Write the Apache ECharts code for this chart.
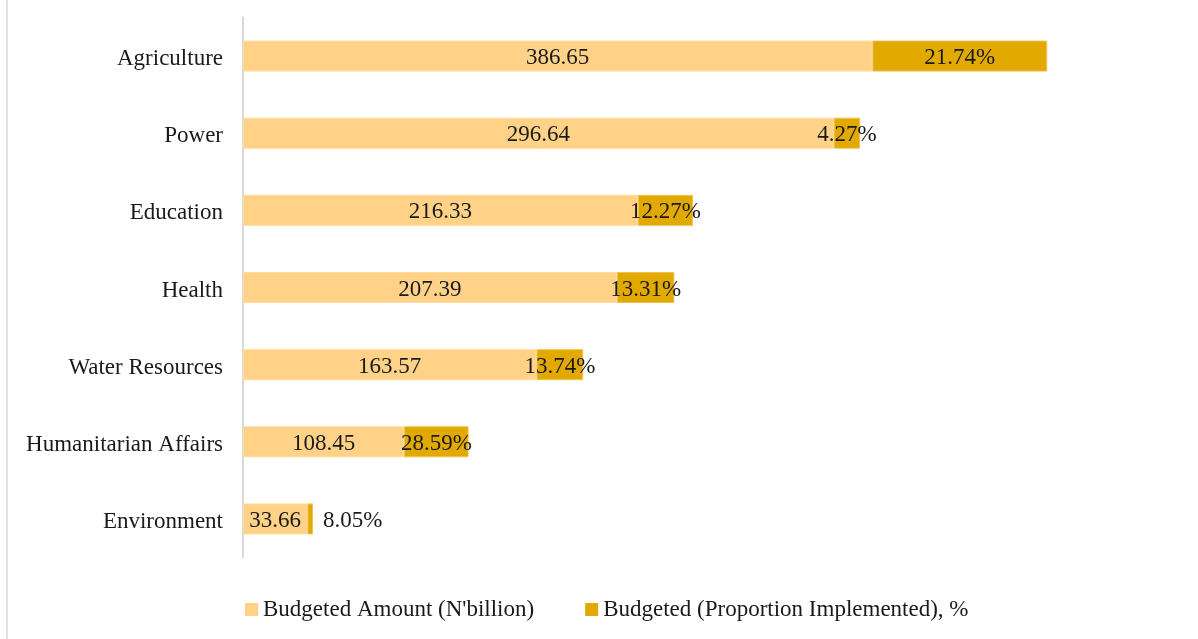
<!DOCTYPE html>
<html>
<head>
<meta charset="utf-8">
<title>Budget by sector</title>
<script src="https://cdn.jsdelivr.net/npm/echarts@6/dist/echarts.min.js"></script>
<style>
    html, body { margin: 0; padding: 0; background: #fff; }
    #chart { width: 1198px; height: 639px; }
</style>
</head>
<body>
<div id="chart"></div>
<script>
    // sectors, top to bottom
    var categories = ['Agriculture', 'Power', 'Education', 'Health', 'Water Resources', 'Humanitarian Affairs', 'Environment'];
    // budgeted amount, N'billion
    var budgeted = [386.65, 296.64, 216.33, 207.39, 163.57, 108.45, 33.66];
    // proportion implemented, %
    var implementedPct = [21.74, 4.27, 12.27, 13.31, 13.74, 28.59, 8.05];

    var FONT = '"Liberation Serif", "DejaVu Serif", serif';
    var FS = 23;

    // the bar is split: unimplemented part + implemented part = budgeted amount
    var restData = [];
    var implData = [];
    for (var i = 0; i < categories.length; i++) {
        var impl = budgeted[i] * implementedPct[i] / 100;
        restData.push({ value: budgeted[i] - impl, label: { formatter: budgeted[i].toFixed(2) } });
        var item = { value: impl, label: { formatter: implementedPct[i].toFixed(2) + '%' } };
        if (impl < 5) {
            // too thin to hold its label
            item.label.position = 'right';
            item.label.distance = 10;
        }
        implData.push(item);
    }

    var myChart = echarts.init(document.getElementById('chart'));
    var option = {
        backgroundColor: '#fff',
        animation: false,
        textStyle: { fontFamily: FONT },
        graphic: [{
            type: 'rect',
            shape: { x: 6, y: 0, width: 2, height: 639 },
            style: { fill: '#e3e3e3' },
            silent: true
        }],
        grid: {
            left: 243,
            right: 123,
            top: 17.5,
            bottom: 81.5
        },
        legend: {
            left: 245,
            top: 598,
            padding: 0,
            icon: 'rect',
            itemWidth: 13,
            itemHeight: 13,
            itemGap: 51,
            itemStyle: { borderWidth: 0 },
            textStyle: { fontFamily: FONT, fontSize: FS, color: '#1a1a1a' },
            data: ["Budgeted Amount (N'billion)", 'Budgeted (Proportion Implemented), %']
        },
        xAxis: {
            type: 'value',
            min: 0,
            max: 400,
            show: false
        },
        yAxis: {
            type: 'category',
            inverse: true,
            data: categories,
            axisLine: { lineStyle: { color: '#d9d9d9', width: 2 } },
            axisTick: { show: false },
            axisLabel: {
                margin: 20,
                formatter: function (v) { return '{c|' + v + '}'; },
                rich: {
                    c: { fontFamily: FONT, fontSize: FS, color: '#1a1a1a', padding: [6, 0, 0, 0] }
                }
            }
        },
        series: [
            {
                name: "Budgeted Amount (N'billion)",
                type: 'bar',
                stack: 'total',
                barWidth: 31,
                itemStyle: { color: '#ffd287', borderColor: '#ffdc9e', borderWidth: 1 },
                label: { show: true, position: 'inside', offset: [0, 2], fontFamily: FONT, fontSize: FS, color: '#1a1a1a' },
                data: restData
            },
            {
                name: 'Budgeted (Proportion Implemented), %',
                type: 'bar',
                stack: 'total',
                barWidth: 31,
                itemStyle: { color: '#e2a900', borderColor: '#f0c24f', borderWidth: 1 },
                label: { show: true, position: 'inside', offset: [0, 2], fontFamily: FONT, fontSize: FS, color: '#1a1a1a' },
                data: implData
            }
        ]
    };
    myChart.setOption(option, true);
</script>
</body>
</html>
